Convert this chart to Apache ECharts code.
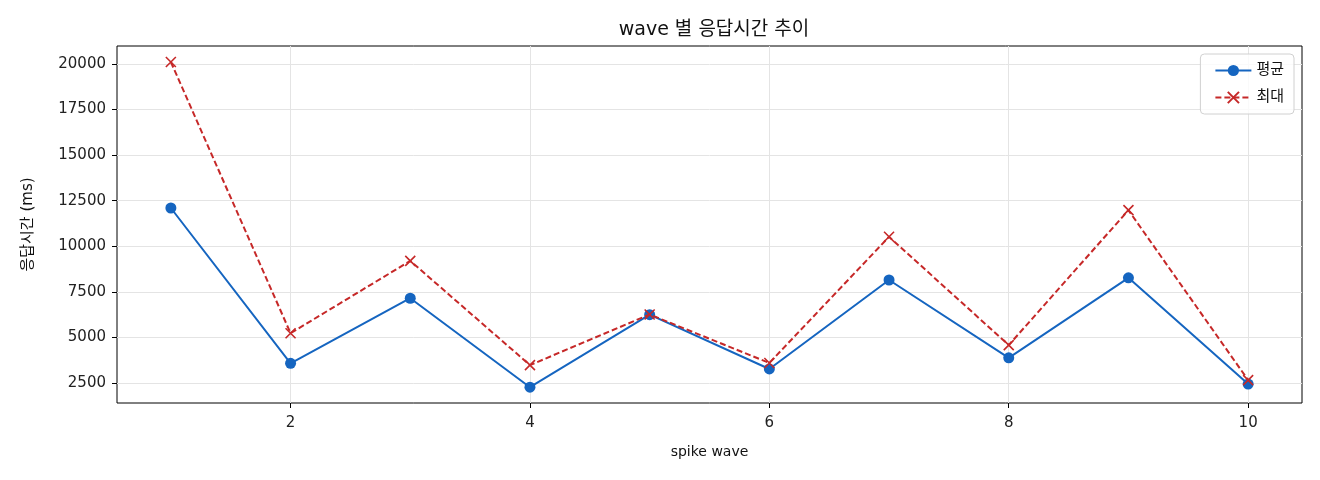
<!DOCTYPE html>
<html>
<head>
<meta charset="utf-8">
<script src="https://cdn.jsdelivr.net/npm/echarts@6/dist/echarts.min.js"></script>
<style>
  html, body { margin: 0; padding: 0; background: #fff; }
  #chart { width: 1320px; height: 480px; }
</style>
</head>
<body>
<div id="chart"></div>
<script>
// wave 번호
var waves = [1, 2, 3, 4, 5, 6, 7, 8, 9, 10];
// 평균 / 최대 응답시간 (ms)
var avgMs = [12100, 3580, 7150, 2270, 6250, 3270, 8150, 3880, 8270, 2440];
var maxMs = [20110, 5230, 9200, 3480, 6260, 3600, 10520, 4580, 11980, 2660];
// 눈금
var xTicks = [2, 4, 6, 8, 10];
var yTicks = [2500, 5000, 7500, 10000, 12500, 15000, 17500, 20000];

var font = '"DejaVu Sans", "Noto Sans CJK KR", sans-serif';
var chart = echarts.init(document.getElementById('chart'));

function pairs(vals) {
  return waves.map(function (w, i) { return [w, vals[i]]; });
}

var option = {
  animation: false,
  textStyle: { fontFamily: font },
  title: {
    text: 'wave 별 응답시간 추이',
    left: 709, top: 16, textAlign: 'center',
    textStyle: { fontSize: 19, fontWeight: 'normal', color: '#111', fontFamily: font }
  },
  legend: {
    orient: 'vertical', right: 26, top: 54,
    itemWidth: 36, itemHeight: 14, itemGap: 12,
    padding: [9, 10, 9, 14],
    borderColor: '#d0d0d0', borderWidth: 1, borderRadius: 4,
    backgroundColor: 'rgba(255,255,255,0.8)',
    textStyle: { fontSize: 15, color: '#111', fontFamily: font },
    data: ['평균', '최대']
  },
  grid: {
    left: 117, right: 18, top: 46, bottom: 77,
    show: true, borderColor: '#000', borderWidth: 1
  },
  xAxis: {
    type: 'value', min: 0.55, max: 10.45,
    name: 'spike wave', nameLocation: 'middle', nameGap: 42,
    nameTextStyle: { fontSize: 14, color: '#111', fontFamily: font },
    axisLine: { show: false },
    axisTick: { show: true, length: 5, lineStyle: { color: '#000' }, customValues: xTicks },
    axisLabel: { fontSize: 15, color: '#222', margin: 13, customValues: xTicks },
    splitLine: { show: true, lineStyle: { color: '#e4e4e4', width: 1 } }
  },
  yAxis: {
    type: 'value', min: 1403, max: 20987,
    name: '응답시간 (ms)', nameLocation: 'middle', nameGap: 81, nameRotate: 90,
    nameTextStyle: { fontSize: 15, color: '#111', fontFamily: font },
    axisLine: { show: false },
    axisTick: { show: true, length: 5, lineStyle: { color: '#000' }, customValues: yTicks },
    axisLabel: {
      fontSize: 15, color: '#222', margin: 11, customValues: yTicks,
      formatter: function (v) { return String(v); }
    },
    splitLine: { show: true, lineStyle: { color: '#e4e4e4', width: 1 } }
  },
  series: [
    {
      name: '평균', type: 'line', data: pairs(avgMs),
      symbol: 'circle', symbolSize: 11,
      itemStyle: { color: '#1565c0' },
      lineStyle: { color: '#1565c0', width: 2 },
      z: 2
    },
    {
      name: '최대', type: 'line', data: pairs(maxMs),
      symbol: 'path://M0,0L10,10M10,0L0,10', symbolSize: 10,
      itemStyle: { color: '#c62828', borderColor: '#c62828', borderWidth: 1.6 },
      lineStyle: { color: '#c62828', width: 2, type: [6, 3] },
      z: 3
    }
  ]
};
chart.setOption(option);
</script>
</body>
</html>
